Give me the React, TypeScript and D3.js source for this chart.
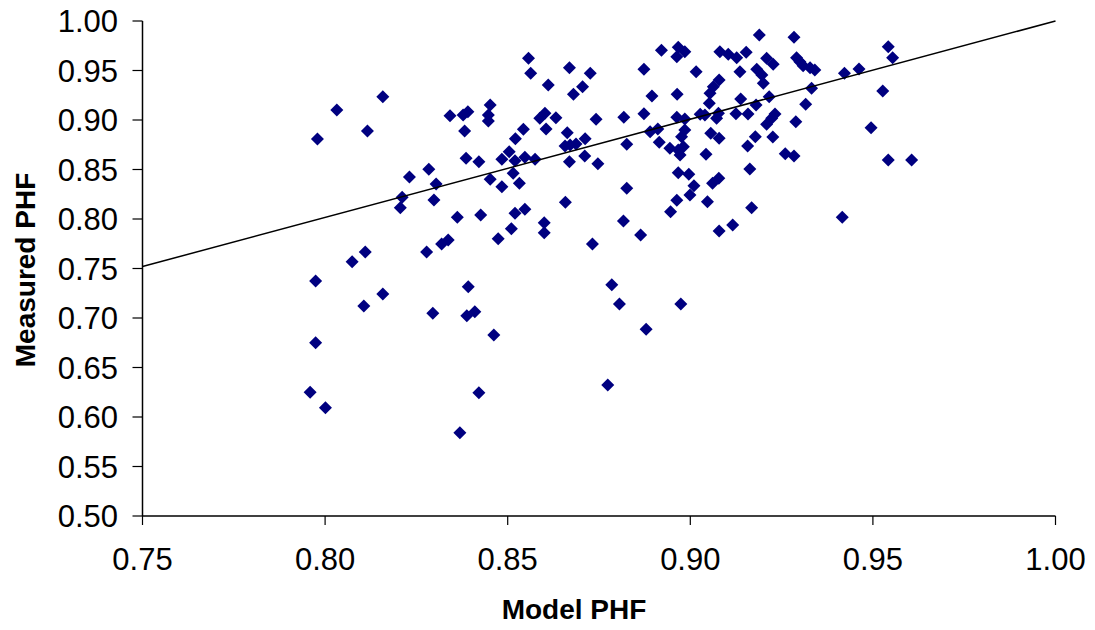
import React from "react";
import * as d3 from "d3";

const modelPHF = [
  0.8158, 0.8032, 0.8116, 0.7979, 0.8342, 0.8378, 0.8391, 0.8382, 0.8386, 0.8284,
  0.8231, 0.8304, 0.8298, 0.8211, 0.8206, 0.8362, 0.8337, 0.8319, 0.8110, 0.8074,
  0.8278, 0.7974, 0.8158, 0.8106, 0.8295, 0.8388, 0.8392, 0.7974, 0.7959, 0.8001,
  0.8369, 0.8557, 0.8563, 0.8669, 0.8726, 0.8611, 0.8705, 0.8680, 0.8452, 0.8447,
  0.8447, 0.8602, 0.8588, 0.8632, 0.8605, 0.8742, 0.8543, 0.8521, 0.8663, 0.8712,
  0.8657, 0.8671, 0.8687, 0.8504, 0.8484, 0.8520, 0.8547, 0.8575, 0.8421, 0.8711,
  0.8669, 0.8747, 0.8515, 0.8452, 0.8532, 0.8484, 0.8658, 0.8426, 0.8520, 0.8547,
  0.8600, 0.8600, 0.8510, 0.8474, 0.8732, 0.8462, 0.8421, 0.8785, 0.8806, 0.8774,
  0.8410, 0.9189, 0.9284, 0.8921, 0.8967, 0.8985, 0.8963, 0.9081, 0.9104, 0.9127,
  0.9153, 0.9209, 0.9227, 0.8873, 0.9016, 0.9136, 0.9182, 0.9196, 0.9200, 0.9079,
  0.9063, 0.9054, 0.8895, 0.8964, 0.9052, 0.9138, 0.9216, 0.9180, 0.8818, 0.8873,
  0.8963, 0.8985, 0.9027, 0.9040, 0.9077, 0.9072, 0.9125, 0.9158, 0.9232, 0.9223,
  0.9209, 0.8890, 0.8911, 0.8985, 0.8976, 0.8826, 0.8915, 0.8944, 0.8967, 0.8981,
  0.8972, 0.9056, 0.9079, 0.9043, 0.9178, 0.9157, 0.9226, 0.9260, 0.9163, 0.8967,
  0.8996, 0.9078, 0.9061, 0.9010, 0.8999, 0.8826, 0.8963, 0.9047, 0.8946, 0.9168,
  0.8817, 0.8864, 0.9079, 0.9116, 0.8974, 0.8879, 0.9291, 0.9300, 0.9309, 0.9328,
  0.9341, 0.9422, 0.9462, 0.9542, 0.9554, 0.9332, 0.9527, 0.9316, 0.9289, 0.9495,
  0.9284, 0.9542, 0.9606, 0.9416,
];
const measuredPHF = [
  0.9235, 0.9101, 0.8889, 0.8808, 0.9043, 0.9051, 0.9084, 0.8889, 0.8613, 0.8502,
  0.8424, 0.8354, 0.8192, 0.8219, 0.8114, 0.8017, 0.7788, 0.7747, 0.7667, 0.7569,
  0.7667, 0.7374, 0.7242, 0.7121, 0.7047, 0.7023, 0.7316, 0.6751, 0.6249, 0.6094,
  0.5841, 0.9623, 0.9472, 0.9528, 0.9472, 0.9354, 0.9336, 0.9260, 0.9152, 0.9051,
  0.8990, 0.9068, 0.9017, 0.9023, 0.8909, 0.9007, 0.8906, 0.8811, 0.8872, 0.8811,
  0.8737, 0.8747, 0.8758, 0.8680, 0.8603, 0.8589, 0.8623, 0.8603, 0.8579, 0.8636,
  0.8579, 0.8559, 0.8462, 0.8401, 0.8361, 0.8326, 0.8169, 0.8040, 0.8058, 0.8098,
  0.7963, 0.7862, 0.7902, 0.7801, 0.7747, 0.6828, 0.6245, 0.7336, 0.7141, 0.6323,
  0.7064, 0.9859, 0.9835, 0.9704, 0.9734, 0.9690, 0.9639, 0.9690, 0.9664, 0.9629,
  0.9684, 0.9623, 0.9563, 0.9512, 0.9488, 0.9488, 0.9512, 0.9455, 0.9371, 0.9404,
  0.9336, 0.9270, 0.9242, 0.9260, 0.9169, 0.9212, 0.9235, 0.9152, 0.9027, 0.9064,
  0.9027, 0.9010, 0.9058, 0.9051, 0.9068, 0.9017, 0.9064, 0.9061, 0.9061, 0.9017,
  0.8957, 0.8882, 0.8909, 0.8899, 0.8831, 0.8755, 0.8775, 0.8714, 0.8697, 0.8730,
  0.8646, 0.8866, 0.8815, 0.8654, 0.8831, 0.8737, 0.8828, 0.8660, 0.8505, 0.8468,
  0.8451, 0.8411, 0.8361, 0.8336, 0.8242, 0.8310, 0.8189, 0.8175, 0.8074, 0.8114,
  0.7980, 0.7838, 0.7879, 0.7939, 0.7141, 0.6886, 0.9629, 0.9589, 0.9549, 0.9528,
  0.9505, 0.9472, 0.9515, 0.9741, 0.9629, 0.9320, 0.9293, 0.9159, 0.8983, 0.8922,
  0.8636, 0.8596, 0.8596, 0.8017,
];

// reference line
const lineX = [0.75, 1.0];
const lineY = [0.752, 1.0];

const xTicks = [0.75, 0.8, 0.85, 0.9, 0.95, 1.0];
const yTicks = [0.5, 0.55, 0.6, 0.65, 0.7, 0.75, 0.8, 0.85, 0.9, 0.95, 1.0];

const W = 1095;
const H = 630;
const left = 142.5;
const right = 1055.5;
const top = 21;
const bottom = 516;

export default function App() {
  const x = d3.scaleLinear().domain([0.75, 1.0]).range([left, right]);
  const y = d3.scaleLinear().domain([0.5, 1.0]).range([bottom, top]);
  const font = "'Liberation Sans', Arial, sans-serif";
  const line = d3
    .line<number>()
    .x((_, i) => x(lineX[i]))
    .y((_, i) => y(lineY[i]));
  const diamond = "M0,-6.5L6.5,0L0,6.5L-6.5,0Z";

  return (
    <svg
      width={W}
      height={H}
      style={{ position: "absolute", left: 0, top: 0, background: "#fff" }}
    >
      <rect x={0} y={0} width={W} height={H} fill="#fff" />
      {/* axes */}
      <line x1={left} x2={left} y1={top} y2={bottom} stroke="#000" strokeWidth={1.5} />
      <line x1={left} x2={right} y1={bottom} y2={bottom} stroke="#000" strokeWidth={1.5} />
      {yTicks.map((t) => (
        <g key={"y" + t}>
          <line x1={left - 10} x2={left} y1={y(t)} y2={y(t)} stroke="#000" strokeWidth={1.2} />
          <text
            x={118}
            y={y(t)}
            dy="0.36em"
            textAnchor="end"
            fontFamily={font}
            fontSize={31}
            fill="#000"
          >
            {d3.format(".2f")(t)}
          </text>
        </g>
      ))}
      {xTicks.map((t) => (
        <g key={"x" + t}>
          <line x1={x(t)} x2={x(t)} y1={bottom} y2={bottom + 9} stroke="#000" strokeWidth={1.2} />
          <text
            x={x(t)}
            y={570}
            textAnchor="middle"
            fontFamily={font}
            fontSize={31}
            fill="#000"
          >
            {d3.format(".2f")(t)}
          </text>
        </g>
      ))}
      {/* points */}
      {modelPHF.map((mx, i) => (
        <path
          key={i}
          d={diamond}
          transform={`translate(${x(mx)},${y(measuredPHF[i])})`}
          fill="#000080"
        />
      ))}
      {/* reference line */}
      <path d={line(lineX) || ""} fill="none" stroke="#000" strokeWidth={1.5} />
      {/* titles */}
      <text
        x={574}
        y={619}
        textAnchor="middle"
        fontFamily={font}
        fontWeight="bold"
        fontSize={28}
        fill="#000"
      >
        Model PHF
      </text>
      <text
        transform={`translate(35,270) rotate(-90)`}
        textAnchor="middle"
        fontFamily={font}
        fontWeight="bold"
        fontSize={28}
        fill="#000"
      >
        Measured PHF
      </text>
    </svg>
  );
}
